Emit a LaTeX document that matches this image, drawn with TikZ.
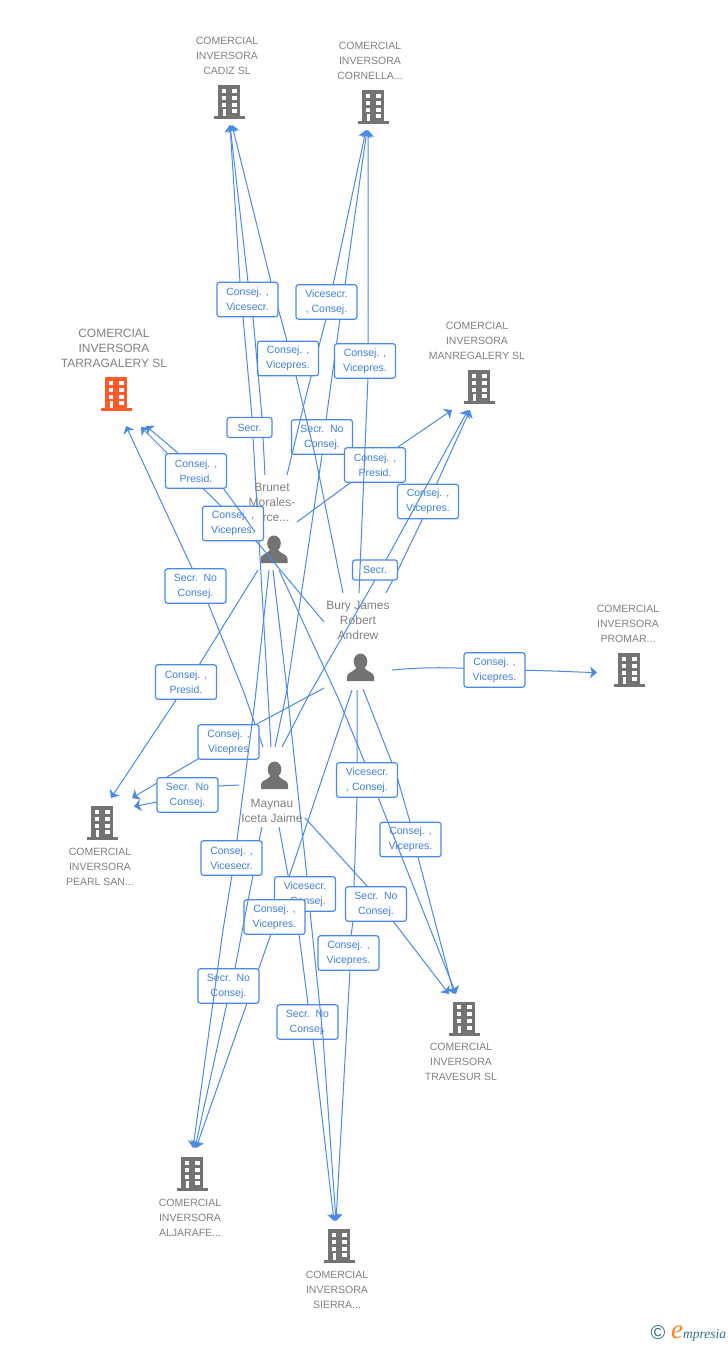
\documentclass[tikz,border=0pt]{standalone}
\usepackage{fontspec}
\setmainfont{Liberation Sans}
\newfontfamily\logofont{Liberation Serif}
\usetikzlibrary{arrows.meta}
\definecolor{edgeblue}{HTML}{4A8AE2}
\definecolor{boxblue}{HTML}{4A8AE6}
\definecolor{labblue}{HTML}{3F7FDD}
\definecolor{txtgray}{HTML}{808080}
\definecolor{icongray}{HTML}{737373}
\definecolor{iconorange}{HTML}{FF5A2A}
\definecolor{logoteal}{HTML}{2F6F86}
\definecolor{logoorange}{HTML}{F58220}
\tikzset{
  bldg/.pic={
    \fill[pic actions] (-11,-17) rectangle (11,15);
    \fill[pic actions] (-15.5,14) rectangle (15.5,17);
    \foreach \yy in {-13.5,-6.5,0.5}{
      \fill[white] (-7.5,\yy) rectangle (-3,\yy+4);
      \fill[white] (3,\yy) rectangle (7.5,\yy+4);
    }
    \fill[white] (3,7) rectangle (7.5,11);
    \fill[white] (-6.5,7) rectangle (-3,14);
  },
  person/.pic={
    \fill[icongray] (0,-6) ellipse [x radius=6.8pt, y radius=8pt];
    \fill[icongray] (-13.5,13.5) -- (-13.5,9) .. controls (-13.5,5) and (-7,4.5) .. (-4,0.5) -- (4,0.5) .. controls (7,4.5) and (13.5,5) .. (13.5,9) -- (13.5,13.5) -- cycle;
  },
  ctext/.style={align=center,inner sep=0pt,text=txtgray,font=\fontsize{10.5}{15}\selectfont},
  ptext/.style={align=center,inner sep=0pt,text=txtgray,font=\fontsize{12}{15}\selectfont},
  ln/.style={draw=edgeblue,line width=1pt,line join=round},
  arr/.style={ln,-{Stealth[length=7pt,width=12pt,inset=2pt]}},
  lab/.style={draw=boxblue,fill=white,line width=1.2pt,rounded corners=2.5pt,align=center,
    inner sep=0pt,outer sep=0pt,minimum width=61pt,minimum height=34.5pt,text=labblue,
    font=\fontsize{10.5}{15}\selectfont},
  labs/.style={lab,minimum width=45pt,minimum height=20pt},
}
\begin{document}
\begin{tikzpicture}[x=1pt,y=-1pt]
\useasboundingbox (0,0) rectangle (728,1345);
% label positions
\coordinate (L1) at (247.5,299.5); \coordinate (L2) at (326.5,302);
\coordinate (L3) at (288,358.5);   \coordinate (L4) at (365,361);
\coordinate (L5) at (249.5,427.5); \coordinate (L6) at (322,437);
\coordinate (L7) at (375,465);     \coordinate (L8) at (428,501.5);
\coordinate (L9) at (196,471);     \coordinate (L10) at (233,523.5);
\coordinate (L11) at (195.5,586);  \coordinate (L12) at (375,570);
\coordinate (L13) at (186,682);    \coordinate (L14) at (494.5,670);
\coordinate (L15) at (228.5,742);  \coordinate (L16) at (187.5,795);
\coordinate (L17) at (367,780);    \coordinate (L18) at (410.5,839.5);
\coordinate (L19) at (231.5,858);  \coordinate (L20) at (305,894);
\coordinate (L21) at (274.5,917);  \coordinate (L22) at (376,904);
\coordinate (L23) at (348.5,953);  \coordinate (L24) at (228.5,986);
\coordinate (L25) at (307.5,1022);
% free ends of connectors
\coordinate (s1) at (271,747);  \coordinate (e1) at (230,125);
\coordinate (s2) at (265,475);  \coordinate (e2) at (230,125);
\coordinate (s3) at (343,593);  \coordinate (e3) at (232,125);
\coordinate (s4) at (275,747);  \coordinate (e4) at (367,130);
\coordinate (s5) at (287,475);  \coordinate (e5) at (366,130);
\coordinate (s6) at (359,593);  \coordinate (e6) at (368,130);
\coordinate (s7) at (297,522);  \coordinate (e7) at (452,410);
\coordinate (s8) at (386,593);  \coordinate (e8) at (470,410);
\coordinate (s9) at (282,747);  \coordinate (e9) at (468,410);
\coordinate (s10) at (392,670); \coordinate (e10) at (597,672.5);
\coordinate (s11) at (324,622); \coordinate (e11) at (141,427);
\coordinate (s12) at (255,532); \coordinate (e12) at (146,426);
\coordinate (s13) at (263,747); \coordinate (e13) at (126,426);
\coordinate (s14) at (258,570); \coordinate (e14) at (111,798);
\coordinate (s15) at (324,688); \coordinate (e15) at (132,798);
\coordinate (s16) at (239,785); \coordinate (e16) at (134,806.5);
\coordinate (s17) at (262,827); \coordinate (e17) at (195,1148);
\coordinate (s18) at (352,690); \coordinate (e18) at (196,1148);
\coordinate (s19) at (269,570); \coordinate (e19) at (193,1148);
\coordinate (s20) at (273,570); \coordinate (e20) at (336,1221);
\coordinate (s21) at (279,827); \coordinate (e21) at (334,1221);
\coordinate (s22) at (357,690); \coordinate (e22) at (336,1221);
\coordinate (s23) at (279,570); \coordinate (e23) at (456,994);
\coordinate (s24) at (363,689); \coordinate (e24) at (454,994);
\coordinate (s25) at (305,818); \coordinate (e25) at (449,994);
% companies
\pic[fill=icongray] (cCadiz) at (229,102) {bldg};
\node[ctext] (tCadiz) at (227,56) {COMERCIAL\\INVERSORA\\CADIZ SL};
\pic[fill=icongray] (cCornella) at (373,107) {bldg};
\node[ctext] (tCornella) at (370,61) {COMERCIAL\\INVERSORA\\CORNELLA...};
\pic[fill=iconorange] (cTarragalery) at (116,394) {bldg};
\node[ptext] (tTarragalery) at (114,348) {COMERCIAL\\INVERSORA\\TARRAGALERY SL};
\pic[fill=icongray] (cManregalery) at (479,387) {bldg};
\node[ctext] (tManregalery) at (477,341) {COMERCIAL\\INVERSORA\\MANREGALERY SL};
\pic[fill=icongray] (cPromar) at (629,670) {bldg};
\node[ctext] (tPromar) at (628,624) {COMERCIAL\\INVERSORA\\PROMAR...};
\pic[fill=icongray] (cPearl) at (102,823) {bldg};
\node[ctext] (tPearl) at (100,867) {COMERCIAL\\INVERSORA\\PEARL SAN...};
\pic[fill=icongray] (cTravesur) at (464,1018.5) {bldg};
\node[ctext] (tTravesur) at (461,1062) {COMERCIAL\\INVERSORA\\TRAVESUR SL};
\pic[fill=icongray] (cAljarafe) at (192,1174) {bldg};
\node[ctext] (tAljarafe) at (190,1218) {COMERCIAL\\INVERSORA\\ALJARAFE...};
\pic[fill=icongray] (cSierra) at (339,1246) {bldg};
\node[ctext] (tSierra) at (337,1290) {COMERCIAL\\INVERSORA\\SIERRA...};
% persons
\pic (pBrunet) at (274,549.5) {person};
\node[ptext] (tBrunet) at (272,502) {Brunet\\Morales-\\Arce...};
\pic (pBury) at (360.5,667.5) {person};
\node[ptext] (tBury) at (358,620) {Bury James\\Robert\\Andrew};
\pic (pMaynau) at (274.5,775.5) {person};
\node[ptext] (tMaynau) at (272,810.5) {Maynau\\Iceta Jaime};
% upper connectors and labels
\draw[arr] (s4) -- (287,690) -- (322,455) -- (L6) -- (326,420) -- (340,319) -- (345,285) -- (e4);
\node[lab] (n6) at (L6) {Secr.\ \ No\\Consej.};
\draw[arr] (s3) -- (315,455) -- (296,376) -- (L3) -- (287,341) -- (271,282) -- (e3);
\draw[arr] (s5) -- (305,400) -- (326,319) -- (L2) -- (333,285) -- (e5);
\node[lab] (n3) at (L3) {Consej. ,\\Vicepres.};
\node[lab] (n2) at (L2) {Vicesecr.\\, Consej.};
\draw[arr] (s1) -- (253,437) -- (252,417) -- (243,317) -- (L1) -- (240,282) -- (e1);
\draw[arr] (s2) -- (263,437) -- (L5) -- (262,417) -- (253,317) -- (248,282) -- (e2);
\node[labs] (n5) at (L5) {Secr.};
\node[lab] (n1) at (L1) {Consej. ,\\Vicesecr.};
\draw[arr] (s7) -- (350,483) -- (L7) -- (398,447) -- (e7);
\node[lab] (n7) at (L7) {Consej. ,\\Presid.};
\draw[arr] (s8) -- (397,572) -- (423,518) -- (L8) -- (437,483) -- (e8);
\node[lab] (n8) at (L8) {Consej. ,\\Vicepres.};
\draw[arr] (s9) -- (310,693) -- (375,580) -- (L12) -- (386,560) -- (e9);
\node[labs] (n12) at (L12) {Secr.};
\draw[arr] (s6) -- (367,400) -- (368,378) -- (L4) -- (368,343) -- (e6);
\node[lab] (n4) at (L4) {Consej. ,\\Vicepres.};
\draw[arr] (s10) .. controls (420,667.5) and (445,666.5) .. (L14) .. controls (545,670) and (570,672) .. (e10);
\node[lab] (n14) at (L14) {Consej. ,\\Vicepres.};
% left connectors and labels
\draw[arr] (s11) -- (257,542) -- (L10) -- (221,506) -- (167,453) -- (e11);
\node[lab] (n10) at (L10) {Consej. ,\\Vicepres.};
\draw[arr] (s12) -- (243,515) -- (223,488) -- (L9) -- (178,453) -- (e12);
\node[lab] (n9) at (L9) {Consej. ,\\Presid.};
\draw[arr] (s13) -- (243,690) -- (208,603) -- (L11) -- (192,568) -- (e13);
\node[lab] (n11) at (L11) {Secr.\ \ No\\Consej.};
\draw[arr] (s14) -- (199,665) -- (L13) -- (176,700) -- (e14);
\node[lab] (n13) at (L13) {Consej. ,\\Presid.};
\draw[arr] (s15) -- (257,724) -- (L15) -- (198,759) -- (167,777) -- (e15);
\node[lab] (n15) at (L15) {Consej. ,\\Vicepres};
\draw[arr] (s16) -- (218,786) -- (L16) -- (157,802) -- (e16);
\node[lab] (n16) at (L16) {Secr.\ \ No\\Consej.};
% lower right connectors and labels
\draw[arr] (s24) -- (392,763) -- (398,780) -- (410,822) -- (L18) -- (418,857) -- (e24);
\node[lab] (n18) at (L18) {Consej. ,\\Vicepres.};
\draw[arr] (s23) -- (339,700) -- (365,763) -- (L17) -- (378,797) -- (e23);
\draw[arr] (s22) -- (357,797) -- (354,887) -- (353,921) -- (351,936) -- (L23) -- (350,970) -- (e22);
\node[lab] (n17) at (L17) {Vicesecr.\\, Consej.};
\draw[arr] (s25) -- (368,887) -- (L22) -- (393,921) -- (e25);
\node[lab] (n22) at (L22) {Secr.\ \ No\\Consej.};
\node[lab] (n23) at (L23) {Consej. ,\\Vicepres.};
% lower connectors and labels
\draw[arr] (s21) -- (288,875) -- (299,934) -- (308,1004) -- (L25) -- (313,1039) -- (e21);
\node[lab] (n25) at (L25) {Secr.\ \ No\\Consej.};
\draw[arr] (s20) -- (287,690) -- (307,877) -- (L20) -- (310,911) -- (323,1037) -- (e20);
\draw[arr] (s18) -- (289,877) -- (L21) -- (271,934) -- (259,968) -- (247,1003) -- (e18);
\node[lab] (n20) at (L20) {Vicesecr.\\, Consej.};
\node[lab] (n21) at (L21) {Consej. ,\\Vicepres.};
\draw[arr] (s17) -- (259,841) -- (253,875) -- (235,968) -- (L24) -- (227,1003) -- (e17);
\node[lab] (n24) at (L24) {Secr.\ \ No\\Consej.};
\draw[arr] (s19) -- (255,700) -- (237,840) -- (L19) -- (232,875) -- (223,930) -- (e19);
\node[lab] (n19) at (L19) {Consej. ,\\Vicesecr.};
% logo
\node[inner sep=0pt,anchor=base,text=logoteal,font=\fontsize{20}{20}\selectfont] (copy) at (658,1339.5) {©};
\node[inner sep=0pt,anchor=base,text=logoorange,font=\logofont\itshape\fontsize{27}{27}\selectfont] (logoe) at (677,1338.5) {e};
\node[inner sep=0pt,anchor=base west,text=logoteal,font=\logofont\itshape\fontsize{13.5}{14}\selectfont] (logot) at (683,1338.5) {mpresia};
\end{tikzpicture}
\end{document}
